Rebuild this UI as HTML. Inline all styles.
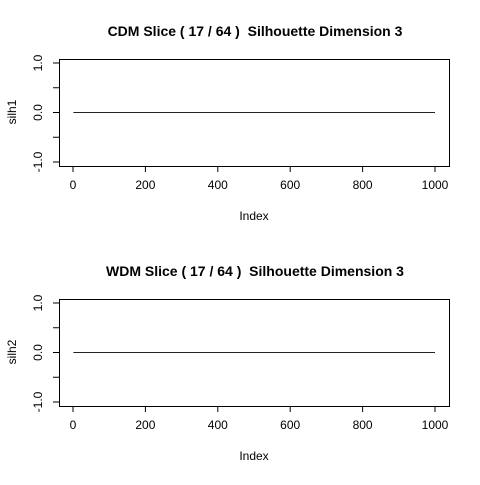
<!DOCTYPE html>
<html><head><meta charset="utf-8"><style>
body{margin:0;background:#fff;}
svg text{font-family:"Liberation Sans",Arial,sans-serif;white-space:pre;}
</style></head><body>
<svg id="c" width="480" height="480" xmlns="http://www.w3.org/2000/svg"></svg>
<script>
const xTicks=[0,200,400,600,800,1000];
const yTicks=[-1,-0.5,0,0.5,1];
const yLabels=["-1.0","0.0","1.0"];
const yLabelVals=[-1,0,1];
const seriesX1=[1,1000];
const seriesY1=[0,0];
const seriesX2=[1,1000];
const seriesY2=[0,0];
const titles=["CDM Slice ( 17 / 64 )  Silhouette Dimension 3","WDM Slice ( 17 / 64 )  Silhouette Dimension 3"];
const ylabs=["silh1","silh2"];
const svg=document.getElementById('c');
const NS="http://www.w3.org/2000/svg";
function mk(t,a,p){const e=document.createElementNS(NS,t);for(const k in a)e.setAttribute(k,a[k]);(p||svg).appendChild(e);return e;}
function panel(off,title,ylab,xs,ys,idx){
  const g=mk('g',{});
  
  
  const sx=v=>73+v*0.362, sy=v=>112.5+off-v*49.5;
  const box=mk('rect',{x:59.5,y:59.5+off,width:390,height:107,fill:'none',stroke:'#000'},g);
  
  const t=mk('text',{x:255,y:36+off,'text-anchor':'middle','font-size':14,'font-weight':'bold'},g);t.textContent=title;
  
  const xl=mk('text',{x:254,y:220+off,'text-anchor':'middle','font-size':12},g);xl.textContent='Index';
  
  const yl=mk('text',{x:0,y:0,'text-anchor':'middle','font-size':12,transform:`translate(16,${112+off}) rotate(-90)`},g);yl.textContent=ylab;
  
  xTicks.forEach(v=>{const x=sx(v);mk('line',{x1:x,x2:x,y1:166+off,y2:172+off,stroke:'#000'},g);
    const l=mk('text',{x:x,y:189+off,'text-anchor':'middle','font-size':12},g);l.textContent=v;
    });
  yTicks.forEach(v=>{const y=sy(v);mk('line',{x1:53,x2:59,y1:y,y2:y,stroke:'#000'},g);});
  yLabelVals.forEach((v,i)=>{const y=sy(v);const l=mk('text',{x:0,y:0,'text-anchor':'middle','font-size':12,transform:`translate(42,${y}) rotate(-90)`},g);l.textContent=yLabels[i];
    });
  const pts=xs.map((x,i)=>sx(x)+','+sy(ys[i])).join(' ');
  const ln=mk('polyline',{points:pts,fill:'none',stroke:'#222'},g);
  
}
panel(0,titles[0],ylabs[0],seriesX1,seriesY1,0);
panel(240,titles[1],ylabs[1],seriesX2,seriesY2,1);
</script>
</body></html>
